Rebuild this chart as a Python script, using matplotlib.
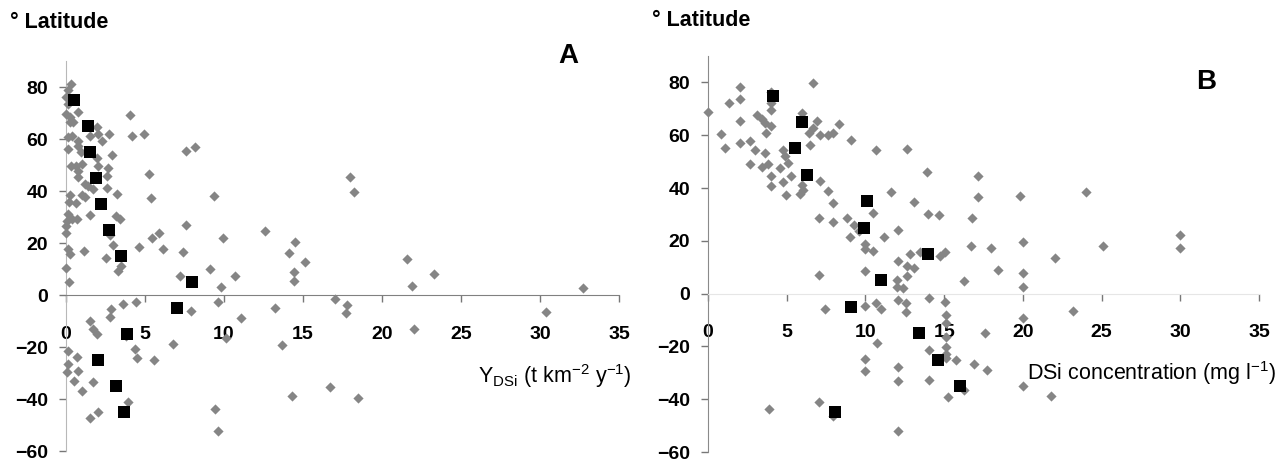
import numpy as np
import matplotlib
matplotlib.use("Agg")
import matplotlib.pyplot as plt

# ---- data ----
# latitude band means (black squares)
band_lat = [75, 65, 55, 45, 35, 25, 15, 5, -5, -15, -25, -35, -45]
band_ydsi = [0.5, 1.4, 1.55, 1.9, 2.2, 2.7, 3.45, 7.95, 7.0, 3.85, 2.05, 3.15, 3.65]
band_conc = [4.15, 5.95, 5.55, 6.3, 10.1, 9.9, 13.95, 11.0, 9.1, 13.4, 14.6, 16.0, 8.05]

# panel A: individual rivers, Y_DSi (t km-2 y-1) vs latitude
ydsi_x = [0.32, 0.1, 0.0, 0.1, 0.0, 0.28, 0.74, 0.46, 0.25, 0.14, 0.4, 0.78, 0.14, 0.78, 0.95,
          1.52, 1.94, 2.04, 2.26, 2.72, 1.94, 2.04, 2.89, 2.64, 0.32, 0.61, 0.99, 0.78, 0.74,
          1.2, 1.41, 1.73, 2.57, 2.57, 3.2, 0.99, 1.2, 0.25, 0.19, 0.65, 1.52, 0.15, 0.04,
          0.36, 0.68, 3.15, 3.43, 0.0, 0.0, 2.78, 3.0, 0.1, 0.25, 1.16, 2.51, 3.27, 3.48, 0.0,
          0.21,
          4.05, 4.16, 4.94, 5.27, 5.36, 7.6, 8.16, 9.37, 7.6, 12.6, 5.42, 5.88, 6.16, 4.6,
          7.38, 7.21, 9.96, 14.5, 14.1, 15.1, 14.4, 14.4, 9.1, 10.7, 9.79, 17.97, 18.23,
          21.6, 23.3, 21.9, 32.7,
          2.85, 2.78, 3.63, 4.41, 7.93, 9.65, 11.1, 10.1, 13.2, 13.7, 1.52, 1.73, 1.94, 3.8,
          4.37, 4.51, 5.59, 6.79, 0.1, 0.68, 0.15, 0.04, 0.78, 0.53, 1.73, 1.03, 3.9, 2.05,
          1.52, 9.43, 9.65, 14.3, 16.7, 18.5, 17.0, 17.8, 17.7, 30.4, 22.0]
ydsi_lat = [81, 79, 76, 73.5, 69.6, 68.3, 70.5, 66.4, 66.4, 60.6, 61.3, 59.4, 56.2, 57.5, 55.1,
            61.3, 64.5, 62, 59.4, 62, 52.6, 49.8, 53.7, 49, 49.8, 49.8, 50.4, 47.8, 45.3,
            42.7, 41.8, 40.8, 41.3, 45.9, 38.9, 38.5, 37.6, 38.5, 35.7, 35.4, 30.9, 31.2, 28.6,
            29.2, 29.2, 30.5, 29.4, 26.6, 24, 23.1, 19.2, 17.7, 15.8, 16.8, 14.2, 9.4, 11, 10.4,
            4.9,
            69.3, 61.3, 61.9, 46.5, 37.2, 55.5, 56.8, 38, 27, 24.6, 21.8, 23.9, 17.7, 18.3,
            16.5, 7.5, 21.8, 20.3, 16.2, 12.6, 9, 5.4, 10, 7.4, 3, 45.3, 39.5,
            13.8, 8.1, 3.3, 2.6,
            -5.4, -8.6, -3.5, -2.6, -6, -2.6, -9, -16.7, -5, -19.2, -9.9, -13.1, -15, -15.6,
            -20.8, -24.4, -24.9, -18.8, -21.4, -24, -26.5, -29.8, -29.1, -33, -33.6, -36.8, -41.3, -44.9,
            -47.4, -43.9, -52.3, -38.7, -35.3, -39.7, -1.5, -3.8, -6.9, -6.7, -13.1]

# panel B: individual rivers, DSi concentration (mg l-1) vs latitude
conc_x = [0.0, 0.82, 1.08, 1.35, 2.04, 2.04, 2.04, 2.04, 2.68, 2.99, 2.68, 3.1, 3.41, 3.63,
          3.99, 3.99, 3.99, 3.99, 3.69, 3.63, 3.41, 3.84, 3.99, 3.99, 4.75, 4.9, 5.05, 4.6,
          4.75, 4.96, 5.26, 5.96, 5.96, 6.02, 5.85, 6.44, 6.49, 6.64, 6.91, 6.66, 7.12, 7.61,
          7.97, 8.35, 9.1, 10.67, 12.64, 7.12, 7.65, 7.97, 7.04, 7.97, 8.82, 9.25, 9.56, 9.0,
          10.45, 11.64, 12.04, 11.2, 13.06, 13.91, 13.99, 14.7, 16.75, 17.14, 17.14, 19.8, 24.0,
          10.0, 10.0, 10.45, 12.04, 12.81, 13.49, 14.76, 15.05, 16.73, 17.98, 18.43, 16.28,
          10.0, 12.62, 13.06, 12.66, 12.0, 12.0, 12.37, 7.06, 20.0, 20.0, 20.0, 22.07, 25.1,
          30.0, 30.0,
          7.46, 10.0, 10.69, 11.02, 12.04, 12.58, 12.57, 14.01, 15.05, 15.09, 15.09, 15.09,
          15.09, 15.09, 15.09, 10.73, 14.01, 10.0, 10.0, 12.04, 12.04, 14.06, 15.78, 16.88,
          17.73, 17.57, 15.27, 16.24, 7.04, 3.9, 7.97, 12.04, 20.0, 20.0, 23.2, 21.8]
conc_lat = [68.7, 60.3, 55.3, 72.1, 78.2, 73.7, 65.3, 57.1, 57.7, 54.4, 49.1, 67.8, 66.1, 64.6,
            76.4, 72.2, 69.5, 63.4, 60.9, 53.2, 48.0, 49.2, 44.7, 40.8, 54.4, 52.1, 49.3, 47.6,
            42.1, 37.5, 44.7, 68.4, 41.3, 39.4, 37.6, 60.9, 56.1, 79.8, 65.2, 62.7, 60.2, 60.2,
            61.0, 64.4, 58.1, 54.3, 54.8, 42.7, 38.7, 34.2, 28.8, 27.1, 28.5, 26.1, 23.6, 21.5,
            30.6, 38.6, 24.2, 21.5, 34.8, 45.9, 30.3, 29.6, 28.6, 44.7, 36.5, 36.9, 38.5,
            18.6, 17.0, 16.2, 12.3, 15.0, 15.6, 14.4, 15.6, 18.0, 17.3, 9.1, 4.7,
            8.5, 10.5, 9.7, 6.8, 5.3, 2.6, 2.1, 6.9, 19.6, 7.8, 2.5, 13.5, 17.9,
            22.3, 17.3,
            -6.0, -4.8, -3.6, -6.0, -2.5, -3.6, -7.0, -1.6, -3.3, -8.1, -11.3, -16.5,
            -20.2, -22.8, -24.4, -18.8, -21.5, -24.8, -29.4, -27.8, -33.2, -32.7, -25.0, -26.5,
            -28.8, -14.9, -39.2, -36.6, -41.2, -43.9, -46.3, -52.1, -35.0, -9.2, -6.7, -38.9]

x_ticks = [0, 5, 10, 15, 20, 25, 30, 35]
y_ticks = [-60, -40, -20, 0, 20, 40, 60, 80]

W, H = 1285, 461
plt.rcParams['font.family'] = ['Liberation Sans', 'DejaVu Sans']
fig = plt.figure(figsize=(W / 100, H / 100), dpi=100)
fig.patch.set_facecolor('white')

GRAY = '#858585'


def px(x0, y0, x1, y1):
    # pixel box -> figure fraction rect
    return [x0 / W, 1 - y1 / H, (x1 - x0) / W, (y1 - y0) / H]


def panel(rect, xs, ys, bx, by, left_col, bottom_col):
    ax = fig.add_axes(rect)
    ax.scatter(xs, ys, marker='D', s=27, color=GRAY, linewidths=0, zorder=3, clip_on=False)
    ax.scatter(bx, by, marker='s', s=75, color='black', linewidths=0, zorder=4, clip_on=False)
    ax.set_xlim(0, 35)
    ax.set_ylim(-60, 90)
    ax.spines['top'].set_visible(False)
    ax.spines['right'].set_visible(False)
    ax.spines['bottom'].set_position(('data', 0))
    ax.spines['bottom'].set_color(bottom_col)
    ax.spines['left'].set_color(left_col)
    ax.spines['left'].set_bounds(-60, 90)
    ax.set_xticks(x_ticks)
    ax.set_yticks(y_ticks)
    ax.tick_params(axis='x', direction='out', length=5, width=1, color='#777777',
                   pad=17, labelsize=14)
    ax.tick_params(axis='y', direction='out', length=5, width=1, color='#777777',
                   pad=8, labelsize=14)
    for lab in ax.get_xticklabels() + ax.get_yticklabels():
        lab.set_fontweight('bold')
    ax.patch.set_alpha(0)
    return ax


axA = panel(px(66, 61, 619, 451), ydsi_x, ydsi_lat, band_ydsi, band_lat, '#b8b8b8', '#808080')
axB = panel(px(708, 56, 1259, 452), conc_x, conc_lat, band_conc, band_lat, '#8a8a8a', '#e6e6e6')

fig.text(10 / W, 1 - 23 / H, '° Latitude', fontsize=15.5, fontweight='bold', va='center', ha='left')
fig.text(652 / W, 1 - 20 / H, '° Latitude', fontsize=15.5, fontweight='bold', va='center', ha='left')
fig.text(568 / W, 1 - 56 / H, 'A', fontsize=20, fontweight='bold', va='center', ha='center')
fig.text(1206 / W, 1 - 82 / H, 'B', fontsize=20, fontweight='bold', va='center', ha='center')
fig.text(632 / W, 1 - 376 / H, r'Y$_{\mathregular{DSi}}$ (t km$^{\mathregular{-2}}$ y$^{\mathregular{-1}}$)',
         fontsize=15.5, va='center', ha='right')
fig.text(1276 / W, 1 - 373 / H, r'DSi concentration (mg l$^{\mathregular{-1}}$)',
         fontsize=15.5, va='center', ha='right')

fig.savefig('out.png', dpi=100, facecolor='white')
